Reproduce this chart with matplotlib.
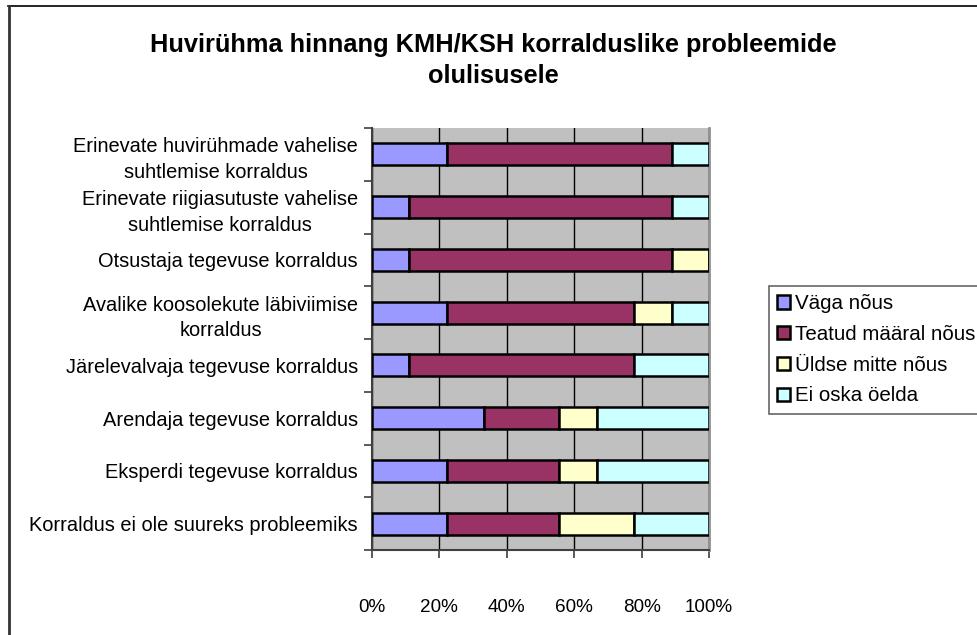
import matplotlib.pyplot as plt
import numpy as np
from matplotlib.lines import Line2D

plt.rcParams["font.family"] = ["Liberation Sans", "DejaVu Sans"]

categories = [
    "Erinevate huvirühmade vahelise\nsuhtlemise korraldus",
    "Erinevate riigiasutuste vahelise\nsuhtlemise korraldus",
    "Otsustaja tegevuse korraldus",
    "Avalike koosolekute läbiviimise\nkorraldus",
    "Järelevalvaja tegevuse korraldus",
    "Arendaja tegevuse korraldus",
    "Eksperdi tegevuse korraldus",
    "Korraldus ei ole suureks probleemiks",
]
# answer counts per category (9 respondents)
vaga_nous = [2, 1, 1, 2, 1, 3, 2, 2]
teatud_maaral = [6, 7, 7, 5, 6, 2, 3, 3]
uldse_mitte = [0, 0, 1, 1, 0, 1, 1, 2]
ei_oska = [1, 1, 0, 1, 2, 3, 3, 2]

series = [
    ("Väga nõus", vaga_nous, "#9999FF"),
    ("Teatud määral nõus", teatud_maaral, "#993366"),
    ("Üldse mitte nõus", uldse_mitte, "#FFFFCC"),
    ("Ei oska öelda", ei_oska, "#CCFFFF"),
]

counts = np.array([s[1] for s in series], dtype=float)
shares = counts / counts.sum(axis=0) * 100

fig = plt.figure(figsize=(9.77, 6.35), dpi=100)
ax = fig.add_axes([372 / 977, 1 - 550 / 635, 337 / 977, 422 / 635])
ax.set_facecolor("#C0C0C0")

y = np.arange(len(categories))[::-1]
left = np.zeros(len(categories))
for (name, _, color), vals in zip(series, shares):
    ax.barh(y, vals, left=left, height=0.42, color=color,
            edgecolor="black", linewidth=1.8, label=name, zorder=3)
    left += vals

ax.set_xlim(0, 100)
ax.set_ylim(-0.5, len(categories) - 0.5)
ax.set_xticks(np.arange(0, 101, 20))
ax.set_xticklabels([f"{v}%" for v in range(0, 101, 20)], fontsize=13.6)
ax.xaxis.grid(True, color="black", linewidth=1.0, zorder=1)
ax.set_axisbelow(True)

ax.set_yticks(np.arange(-0.5, len(categories), 1.0))
ax.set_yticklabels([])
ax.set_yticks(y, minor=True)
ax.set_yticklabels(categories, minor=True, fontsize=14.4, ha="right",
                   multialignment="center", linespacing=1.45)
ax.tick_params(axis="y", which="minor", length=0, pad=10)
ax.tick_params(axis="y", which="major", length=6, width=1.2, color="#404040")
ax.tick_params(axis="x", length=6, width=1.2, color="#404040", pad=29)

ax.spines["top"].set_visible(False)
ax.spines["left"].set_color("#404040")
ax.spines["left"].set_linewidth(1.5)
ax.spines["bottom"].set_color("#404040")
ax.spines["bottom"].set_linewidth(1.5)
ax.spines["right"].set_color("#909090")
ax.spines["right"].set_linewidth(2)

fig.text(0.505, 1 - 45 / 635, "Huvirühma hinnang KMH/KSH korralduslike probleemide",
         ha="center", va="center", fontsize=18.3, fontweight="bold")
fig.text(0.505, 1 - 76 / 635, "olulisusele",
         ha="center", va="center", fontsize=18.3, fontweight="bold")

leg = ax.legend(loc="upper left", bbox_to_anchor=(769 / 977, 1 - 286 / 635),
                bbox_transform=fig.transFigure, fontsize=14.8, frameon=True,
                fancybox=False, edgecolor="#404040", handlelength=0.6,
                handleheight=0.6, handletextpad=0.25, labelspacing=0.57,
                borderpad=0.4, borderaxespad=0)
leg.get_frame().set_linewidth(1.2)
for h in leg.legend_handles:
    h.set_linewidth(1.8)

# outer chart-area border (top and left edges)
fig.add_artist(Line2D([8 / 977, 1], [1 - 6 / 635, 1 - 6 / 635],
                      transform=fig.transFigure, color="black", linewidth=1.2))
fig.add_artist(Line2D([9 / 977, 9 / 977], [0, 1 - 6 / 635],
                      transform=fig.transFigure, color="#333333", linewidth=2))

fig.savefig("out.png", dpi=100, facecolor="white")
